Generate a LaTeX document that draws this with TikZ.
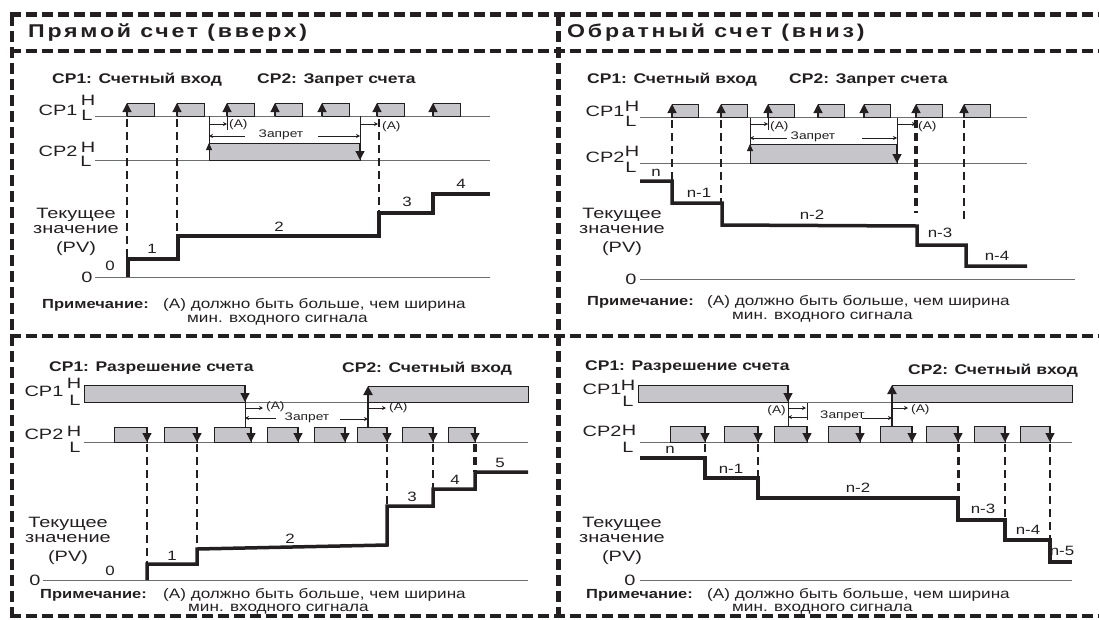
\documentclass[tikz,border=0pt]{standalone}
\usepackage{fontspec}
\setmainfont{Liberation Sans}[FakeStretch=1.25]
\newfontfamily\lblfont{Liberation Sans}[FakeStretch=1.33]
\usetikzlibrary{arrows.meta}
\definecolor{ink}{HTML}{231F20}
\definecolor{wirec}{HTML}{6D6E71}
\definecolor{pulsefill}{HTML}{C5C5CA}

\begin{document}
\begin{tikzpicture}[x=1pt,y=-1pt,
    every node/.style={inner sep=0pt,text=ink},
    lbl/.style={font=\lblfont\fontsize{15}{15}\selectfont},
    stp/.style={font=\fontsize{13.5}{14}\selectfont},
    hdr/.style={font=\bfseries\fontsize{14}{14}\selectfont,anchor=base west},
    ttl/.style={font=\bfseries\fontsize{18.5}{18}\selectfont\addfontfeature{LetterSpace=15},anchor=base west},
    sml/.style={font=\fontsize{11}{12}\selectfont},
    nteb/.style={font=\bfseries\fontsize{13.2}{13}\selectfont,anchor=base west},
    nte/.style={font=\fontsize{13.7}{13}\selectfont,anchor=base west},
    wire/.style={draw=wirec,line width=0.8pt},
    pulsebox/.style={draw=ink,fill=pulsefill,line width=0.9pt},
    pv/.style={draw=ink,line width=3.5pt},
    cnt/.style={draw=ink,line width=2.6pt,dash pattern=on 8pt off 5pt},
    border/.style={draw=ink,line width=4.5pt,dash pattern=on 11pt off 5pt},
    sigarrow/.style={draw=ink,line width=1.2pt,-{Triangle[width=9pt,length=9pt]}},
    smallarrow/.style={draw=ink,line width=0.8pt,-{Triangle[width=6pt,length=7pt]}},
    dimA/.style={draw=ink,line width=0.7pt,-{Stealth[length=4pt,width=4pt]}},
    thinv/.style={draw=ink,line width=0.7pt}]
\useasboundingbox (0,0) rectangle (1099,619);

% Border
\draw[border] (10,14.5) -- (1099,14.5);
\draw[border] (10,51) -- (1099,51);
\draw[border] (10,336) -- (1099,336);
\draw[border] (10,616) -- (1099,616);
\draw[border] (12,14.5) -- (12,616);
\draw[border] (558.5,14.5) -- (558.5,616);
\node[ttl] (tUp) at (28,37) {Прямой счет (вверх)};
\node[ttl] (tDown) at (567,37) {Обратный счет (вниз)};

%%%%% Up count, CP1 counts, CP2 inhibits
\node[hdr] (hA1) at (52,83) {CP1: Счетный вход};
\node[hdr] (hA2) at (257,83) {CP2: Запрет счета};
\node[lbl] (aCP1) at (58,110) {CP1};
\node[lbl] (aH1) at (88,100) {H};
\node[lbl] (aL1) at (87,115) {L};
\node[lbl] (aCP2) at (58,151) {CP2};
\node[lbl] (aH2) at (88,147) {H};
\node[lbl] (aL2) at (86,161) {L};
% Signals
\draw[wire] (95,116) -- (490,116);
\draw[wire] (95,160) -- (490,160);
\draw[pulsebox] (209,143) rectangle (360,160);
\foreach \a in {127,177,227,275,322,377,433}{
  \draw[pulsebox] (\a,103) rectangle (\a+27,116);
  \draw[sigarrow] (\a,116) -- (\a,103);
}
\draw[smallarrow] (209,160) -- (209,143);
\draw[sigarrow] (360,143) -- (360,160);
\draw[thinv] (209,116) -- (209,143);
\draw[thinv] (360,116) -- (360,143);
\draw[thinv] (227,116) -- (227,130);
% (A) and inhibit
\draw[dimA] (209,124) -- (227,124);
\node[sml,anchor=west] (aA1) at (229,125) {(A)};
\draw[dimA] (360,124) -- (378,124);
\node[sml,anchor=west] (aA2) at (382,127) {(A)};
\draw[dimA] (245,136) -- (209,136);
\node[sml] (aZ) at (281,135) {Запрет};
\draw[dimA] (318,136) -- (360,136);
\draw[cnt] (127,119) -- (127,259);
\draw[cnt] (177,119) -- (177,236);
\draw[cnt] (379,119) -- (379,213);
% Present value
\draw[wire] (95,277) -- (490,277);
\node[lbl] (a0) at (87,277) {0};
\draw[pv] (128,277) -- (128,259) -- (178,259) -- (178,236) -- (379,236) -- (379,213) -- (433,213) -- (433,194) -- (490,194);
\node[stp] (aS0) at (110,266) {0};
\node[stp] (aS1) at (152,249) {1};
\node[stp] (aS2) at (279,227) {2};
\node[stp] (aS3) at (407,202) {3};
\node[stp] (aS4) at (461,184) {4};
\node[lbl,anchor=base] (aPV1) at (76,218) {Текущее};
\node[lbl,anchor=base] (aPV2) at (76,233) {значение};
\node[lbl,anchor=base] (aPV3) at (76,252) {(PV)};
\node[nteb] (aN1) at (42,308) {Примечание:};
\node[nte] (aN2) at (163,308) {(A) должно быть больше, чем ширина};
\node[nte] (aN3) at (187,322) {мин. входного сигнала};

%%%%% Down count, CP1 counts, CP2 inhibits
\node[hdr] (hB1) at (587,83) {CP1: Счетный вход};
\node[hdr] (hB2) at (789,83) {CP2: Запрет счета};
\node[lbl] (bCP1) at (605,111) {CP1};
\node[lbl] (bH1) at (632,106) {H};
\node[lbl] (bL1) at (631,121) {L};
\node[lbl] (bCP2) at (605,157) {CP2};
\node[lbl] (bH2) at (632,151) {H};
\node[lbl] (bL2) at (631,167) {L};
% Signals
\draw[wire] (640,117.5) -- (1027,117.5);
\draw[wire] (640,163) -- (1027,163);
\draw[pulsebox] (750,144) rectangle (897,163);
\foreach \a in {672,721,768,818,864,916,964}{
  \draw[pulsebox] (\a,104) rectangle (\a+26,117.5);
  \draw[sigarrow] (\a,117.5) -- (\a,104);
}
\draw[smallarrow] (750,163) -- (750,144);
\draw[sigarrow] (897,144) -- (897,163);
\draw[thinv] (750,117.5) -- (750,144);
\draw[thinv] (897,117.5) -- (897,144);
\draw[thinv] (768,117.5) -- (768,130);
% (A) and inhibit
\draw[dimA] (750,124) -- (768,124);
\node[sml,anchor=west] (bA1) at (770,127) {(A)};
\draw[dimA] (897,124) -- (916,124);
\node[sml,anchor=west] (bA2) at (918,127) {(A)};
\draw[dimA] (787,138) -- (750,138);
\node[sml] (bZ) at (813,137) {Запрет};
\draw[dimA] (862,138) -- (897,138);
\draw[cnt] (672,120) -- (672,181);
\draw[cnt,line width=2pt] (721,120) -- (721,203);
\draw[cnt,line width=4pt] (916,120) -- (916,213);
\draw[cnt,line width=2pt] (964,120) -- (964,219);
% Present value
\draw[wire] (640,279) -- (1075,279);
\node[lbl] (b0) at (631,279) {0};
\draw[pv] (640,181) -- (672,181) -- (672,203) -- (722,203) -- (722,225) -- (917,226) -- (917,245) -- (966,245) -- (966,266) -- (1027,266);
\node[stp] (bS0) at (656,173) {n};
\node[stp] (bS1) at (699,193) {n-1};
\node[stp] (bS2) at (812,215) {n-2};
\node[stp] (bS3) at (940,233) {n-3};
\node[stp] (bS4) at (997,256) {n-4};
\node[lbl,anchor=base] (bPV1) at (622,218) {Текущее};
\node[lbl,anchor=base] (bPV2) at (622,233) {значение};
\node[lbl,anchor=base] (bPV3) at (622,252) {(PV)};
\node[nteb] (bN1) at (587,305) {Примечание:};
\node[nte] (bN2) at (707,305) {(A) должно быть больше, чем ширина};
\node[nte] (bN3) at (732,319) {мин. входного сигнала};

%%%%% Up count, CP1 enables, CP2 counts
\node[hdr] (hC1) at (49,371) {CP1: Разрешение счета};
\node[hdr] (hC2) at (342,372) {CP2: Счетный вход};
\node[lbl] (cCP1) at (44,391) {CP1};
\node[lbl] (cH1) at (74,383) {H};
\node[lbl] (cL1) at (75,400) {L};
\node[lbl] (cCP2) at (44,434) {CP2};
\node[lbl] (cH2) at (74,431) {H};
\node[lbl] (cL2) at (75,447) {L};
% Signals
\draw[wire] (245,402) -- (368,402);
\draw[pulsebox] (84,385) rectangle (245,402);
\draw[pulsebox] (368,386) rectangle (528,402);
\draw[wire] (84,442) -- (528,442);
\foreach \a/\b in {114/147,164/197,214/251,267/298,314/345,357/387,402/433,448/475}{
  \draw[pulsebox] (\a,427) rectangle (\b,442);
  \draw[sigarrow] (\b,427) -- (\b,442);
}
\draw[sigarrow] (245,385) -- (245,402);
\draw[thinv] (245,402) -- (245,427);
\draw[sigarrow,line width=2.5pt] (368,427) -- (368,386);
% (A) and inhibit
\draw[dimA] (245,408) -- (263,408);
\node[sml,anchor=west] (cA1) at (266,407) {(A)};
\draw[dimA] (368,408) -- (386,408);
\node[sml,anchor=west] (cA2) at (389,408) {(A)};
\draw[dimA] (276,418) -- (245,418);
\node[sml] (cZ) at (307,418) {Запрет};
\draw[dimA] (340,419) -- (368,419);
\draw[cnt] (147,444) -- (147,564);
\draw[cnt] (197,444) -- (197,549);
\draw[cnt] (387,444) -- (387,506);
\draw[cnt,line width=2pt] (433,444) -- (433,489);
\draw[cnt,line width=4pt] (475,444) -- (475,472);
% Present value
\draw[wire] (43,580) -- (528,580);
\node[lbl] (c0) at (35,580) {0};
\draw[pv] (147,580) -- (147,564) -- (197,564) -- (197,549) -- (387,545) -- (387,506) -- (433,506) -- (433,489) -- (475,489) -- (475,472) -- (528,472);
\node[stp] (cS0) at (110,571) {0};
\node[stp] (cS1) at (172,556) {1};
\node[stp] (cS2) at (290,539) {2};
\node[stp] (cS3) at (412,497) {3};
\node[stp] (cS4) at (455,480) {4};
\node[stp] (cS5) at (500,463) {5};
\node[lbl,anchor=base] (cPV1) at (68,527) {Текущее};
\node[lbl,anchor=base] (cPV2) at (68,542) {значение};
\node[lbl,anchor=base] (cPV3) at (68,561) {(PV)};
\node[nteb] (cN1) at (40,598) {Примечание:};
\node[nte] (cN2) at (163,598) {(A) должно быть больше, чем ширина};
\node[nte] (cN3) at (188,611) {мин. входного сигнала};

%%%%% Down count, CP1 enables, CP2 counts
\node[hdr] (hD1) at (585,370) {CP1: Разрешение счета};
\node[hdr] (hD2) at (908,374) {CP2: Счетный вход};
\node[lbl] (dCP1) at (602,389) {CP1};
\node[lbl] (dH1) at (628,385) {H};
\node[lbl] (dL1) at (628,401) {L};
\node[lbl] (dCP2) at (602,431) {CP2};
\node[lbl] (dH2) at (629,430) {H};
\node[lbl] (dL2) at (628,447) {L};
% Signals
\draw[wire] (788,402) -- (892,402);
\draw[pulsebox] (638,385) rectangle (788,402);
\draw[pulsebox] (892,385) rectangle (1072,402);
\draw[wire] (640,442) -- (1072,442);
\foreach \a/\b in {670/705,724/758,774/807,828/860,880/912,926/958,974/1005,1020/1050}{
  \draw[pulsebox] (\a,426) rectangle (\b,442);
  \draw[sigarrow] (\b,426) -- (\b,442);
}
\draw[sigarrow] (788,385) -- (788,402);
\draw[thinv] (788,402) -- (788,426);
\draw[sigarrow,line width=2.5pt] (892,426) -- (892,385);
% (A) and inhibit
\node[sml,anchor=east] (dA1) at (786,411) {(A)};
\draw[dimA] (788,408) -- (806,408);
\draw[thinv] (807,403) -- (807,420);
\draw[dimA] (807,417) -- (788,417);
\node[sml,anchor=west] (dZ) at (820,416) {Запрет};
\draw[dimA] (862,418) -- (892,418);
\draw[dimA] (892,408) -- (908,408);
\node[sml,anchor=west] (dA2) at (911,410) {(A)};
\draw[cnt] (705,444) -- (705,458);
\draw[cnt] (758,444) -- (758,478);
\draw[cnt,line width=3pt] (958,444) -- (958,498);
\draw[cnt,line width=2pt] (1005,444) -- (1005,520);
\draw[cnt,line width=2pt] (1050,444) -- (1050,540);
% Present value
\draw[wire] (640,580) -- (1072,580);
\node[lbl] (d0) at (630,580) {0};
\draw[pv] (640,458) -- (705,458) -- (705,478) -- (758,478) -- (758,498) -- (958,498) -- (958,520) -- (1005,520) -- (1005,540) -- (1050,540) -- (1050,562) -- (1072,562);
\node[stp] (dS0) at (670,450) {n};
\node[stp] (dS1) at (731,469) {n-1};
\node[stp] (dS2) at (858,488) {n-2};
\node[stp] (dS3) at (983,509) {n-3};
\node[stp] (dS4) at (1028,530) {n-4};
\node[stp] (dS5) at (1062,551) {n-5};
\node[lbl,anchor=base] (dPV1) at (622,527) {Текущее};
\node[lbl,anchor=base] (dPV2) at (622,542) {значение};
\node[lbl,anchor=base] (dPV3) at (622,561) {(PV)};
\node[nteb] (dN1) at (586,598) {Примечание:};
\node[nte] (dN2) at (707,598) {(A) должно быть больше, чем ширина};
\node[nte] (dN3) at (732,611) {мин. входного сигнала};
\end{tikzpicture}
\end{document}
